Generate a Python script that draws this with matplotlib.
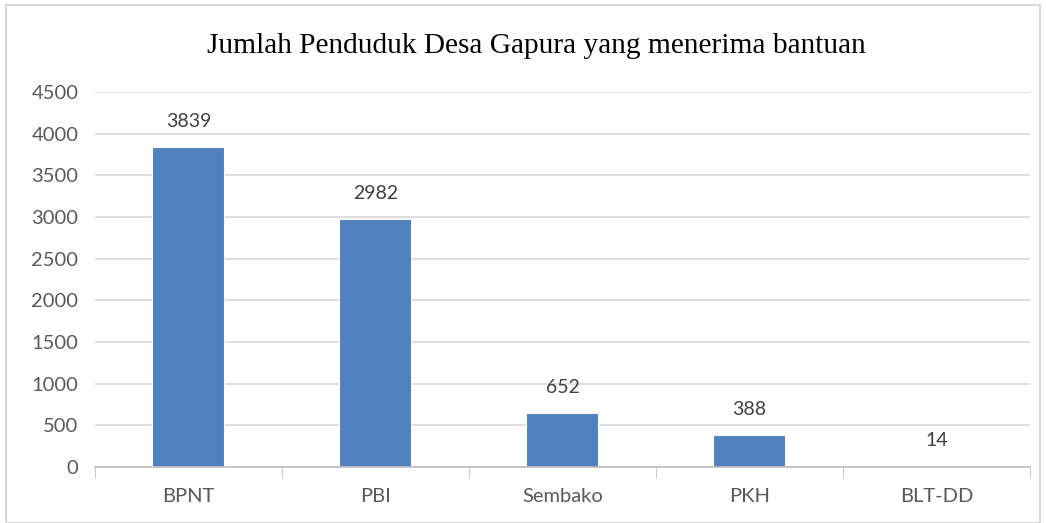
import matplotlib
matplotlib.use('Agg')
import numpy as np
from matplotlib import pyplot as plt
from matplotlib.patches import Rectangle

categories = ['BPNT', 'PBI', 'Sembako', 'PKH', 'BLT-DD']
values = [3839, 2982, 652, 388, 14]
yticks = [0, 500, 1000, 1500, 2000, 2500, 3000, 3500, 4000, 4500]
title = 'Jumlah Penduduk Desa Gapura yang menerima bantuan'

fig = plt.figure(figsize=(10.46, 5.23), dpi=100)
ax = fig.add_axes([0.0908, 0.107, 0.8939, 0.717])

x = np.arange(len(categories))
bars = ax.bar(x, values, width=0.385, color='#4F81BD', edgecolor='white',
              linewidth=0.8, zorder=3)

# data labels above bars
for xi, v in zip(x, values):
    ax.annotate(str(v), (xi, v), xytext=(0, 12), textcoords='offset points',
                ha='center', va='bottom', fontsize=14, family='Lato', color='#404040')

ax.set_xlim(-0.5, len(categories) - 0.5)
ax.set_ylim(0, 4500)
ax.set_yticks(yticks)
ax.set_yticklabels([str(t) for t in yticks], family='Lato', fontsize=14.5, color='#595959')
ax.set_xticks(x)
ax.set_xticklabels(categories, family='Lato', fontsize=14.5, color='#595959')
ax.set_xticks(np.arange(-0.5, len(categories)), minor=True)
ax.tick_params(axis='x', which='major', length=0, pad=15)
ax.tick_params(axis='x', which='minor', length=8, color='#bfbfbf', direction='out')
ax.tick_params(axis='y', length=0, pad=12)

ax.grid(axis='y', color='#d9d9d9', linewidth=1.2, zorder=0)
for s in ['left', 'right', 'top']:
    ax.spines[s].set_visible(False)
ax.spines['bottom'].set_color('#bfbfbf')
ax.spines['bottom'].set_linewidth(1.2)
ax.spines['bottom'].set_zorder(4)

fig.text(0.513, 0.913, title, ha='center', va='center', fontsize=21.2,
         family='Liberation Serif', color='black')

# chart border
fig.patches.append(Rectangle((0.006, 0.0), 0.988, 0.99, transform=fig.transFigure,
                             fill=False, edgecolor='#d9d9d9', linewidth=1.5))

fig.savefig('out.png', dpi=100)
